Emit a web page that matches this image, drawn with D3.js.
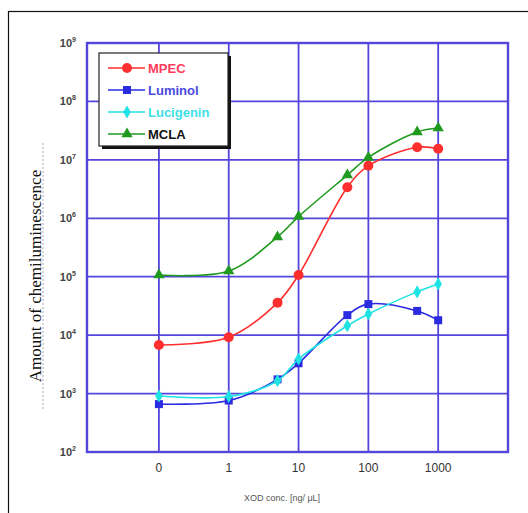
<!DOCTYPE html>
<html>
<head>
<meta charset="utf-8">
<script src="https://cdn.jsdelivr.net/npm/d3@7"></script>
<style>
  body { margin: 0; background: #fff; }
  svg { display: block; }
</style>
</head>
<body>
<div id="chart"></div>
<script>
// concentrations (0 is drawn one decade left of 1)
const concs = [0, 1, 5, 10, 50, 100, 500, 1000];
const xTicks = [0, 1, 10, 100, 1000];
const yExponents = [2, 3, 4, 5, 6, 7, 8, 9];

const mpec = [6.8e3, 9.2e3, 3.6e4, 1.07e5, 3.4e6, 7.9e6, 1.64e7, 1.55e7];
const luminol = [6.6e2, 7.6e2, 1.75e3, 3.3e3, 2.2e4, 3.4e4, 2.6e4, 1.8e4];
const lucigenin = [9.1e2, 8.9e2, 1.66e3, 3.9e3, 1.45e4, 2.3e4, 5.5e4, 7.5e4];
const mcla = [1.07e5, 1.25e5, 4.8e5, 1.07e6, 5.5e6, 1.1e7, 3.0e7, 3.5e7];

const series = [
  { name: "MPEC", values: mpec, color: "#ff2f2f", text: "#ff3b5c", shape: "circle" },
  { name: "Luminol", values: luminol, color: "#2b2be0", text: "#4a4ae0", shape: "square" },
  { name: "Lucigenin", values: lucigenin, color: "#1fe3e3", text: "#3ee0e6", shape: "diamond" },
  { name: "MCLA", values: mcla, color: "#1f9a1f", text: "#111", shape: "triangle" }
];

const width = 528, height = 513;
const plot = { left: 87, right: 508, top: 43, bottom: 452 };
const gridColor = "#5446dc";

const svg = d3.select("#chart").append("svg")
  .attr("width", width)
  .attr("height", height);

// outer frame
svg.append("rect")
  .attr("x", 8.5).attr("y", 11.5)
  .attr("width", 540).attr("height", 520)
  .attr("fill", "none")
  .attr("stroke", "#111")
  .attr("stroke-width", 1.2);

// position on the x axis: 0 gets its own slot left of 1
const pos = c => c === 0 ? 0 : Math.log10(c) + 1;

const x = d3.scaleLinear()
  .domain([-1.03, 5])
  .range([plot.left, plot.right]);

const y = d3.scaleLog()
  .domain([1e2, 1e9])
  .range([plot.bottom, plot.top]);

// grid
const grid = svg.append("g")
  .attr("stroke", gridColor)
  .attr("stroke-width", 1.8);

grid.selectAll("line.h")
  .data(yExponents)
  .join("line")
  .attr("class", "h")
  .attr("x1", plot.left).attr("x2", plot.right)
  .attr("y1", d => y(Math.pow(10, d)))
  .attr("y2", d => y(Math.pow(10, d)));

grid.selectAll("line.v")
  .data(xTicks)
  .join("line")
  .attr("class", "v")
  .attr("x1", d => x(pos(d))).attr("x2", d => x(pos(d)))
  .attr("y1", plot.top).attr("y2", plot.bottom);

grid.append("rect")
  .attr("x", plot.left).attr("y", plot.top)
  .attr("width", plot.right - plot.left)
  .attr("height", plot.bottom - plot.top)
  .attr("fill", "none")
  .attr("stroke-width", 2.4);

// y tick labels 10^n
const yl = svg.append("g")
  .attr("font-family", "Liberation Sans, Arial, sans-serif")
  .attr("font-weight", "bold")
  .attr("fill", "#444");

yl.selectAll("text")
  .data(yExponents)
  .join("text")
  .attr("x", 76)
  .attr("y", d => y(Math.pow(10, d)) + 4)
  .attr("text-anchor", "end")
  .attr("font-size", 11)
  .text("10")
  .append("tspan")
  .attr("dy", -5)
  .attr("font-size", 7)
  .text(d => d);

// x tick labels
svg.append("g")
  .selectAll("text")
  .data(xTicks)
  .join("text")
  .attr("x", d => x(pos(d)))
  .attr("y", 472)
  .attr("text-anchor", "middle")
  .attr("font-family", "Liberation Sans, Arial, sans-serif")
  .attr("font-size", 12)
  .attr("fill", "#333")
  .text(d => d);

// axis titles
svg.append("text")
  .attr("x", 282).attr("y", 501)
  .attr("text-anchor", "middle")
  .attr("font-family", "Liberation Sans, Arial, sans-serif")
  .attr("font-size", 9)
  .attr("fill", "#555")
  .text("XOD conc. [ng/ μL]");

svg.append("text")
  .attr("transform", "translate(41,276) rotate(-90)")
  .attr("text-anchor", "middle")
  .attr("font-family", "Liberation Serif, Times New Roman, serif")
  .attr("font-size", 17)
  .attr("fill", "#111")
  .text("Amount of chemiluminescence");

// faint dashed edge of the label box
svg.append("line")
  .attr("x1", 43).attr("x2", 43)
  .attr("y1", 143).attr("y2", 410)
  .attr("stroke", "#aaa")
  .attr("stroke-width", 1)
  .attr("stroke-dasharray", "2,2");

// marker drawer
function drawMarker(sel, shape, color) {
  if (shape === "circle") {
    sel.append("circle").attr("r", 5).attr("fill", color);
  } else if (shape === "square") {
    sel.append("rect").attr("x", -4).attr("y", -4)
      .attr("width", 8).attr("height", 8).attr("fill", color);
  } else if (shape === "diamond") {
    sel.append("path").attr("d", d3.symbol(d3.symbolDiamond, 50)()).attr("fill", color);
  } else {
    sel.append("path").attr("d", d3.symbol(d3.symbolTriangle, 55)()).attr("fill", color);
  }
}

const line = d3.line()
  .x((d, i) => x(pos(concs[i])))
  .y(d => y(d))
  .curve(d3.curveCatmullRom.alpha(0.5));

series.forEach(s => {
  const g = svg.append("g");
  g.append("path")
    .attr("d", line(s.values))
    .attr("fill", "none")
    .attr("stroke", s.color)
    .attr("stroke-width", 1.6);

  g.selectAll("g.pt")
    .data(s.values)
    .join("g")
    .attr("class", "pt")
    .attr("transform", (d, i) => `translate(${x(pos(concs[i]))},${y(d)})`)
    .each(function () { drawMarker(d3.select(this), s.shape, s.color); });
});

// legend with drop shadow
const lg = svg.append("g");
lg.append("rect")
  .attr("x", 102).attr("y", 56)
  .attr("width", 129).attr("height", 93)
  .attr("fill", "#111");
lg.append("rect")
  .attr("x", 99).attr("y", 53)
  .attr("width", 129).attr("height", 93)
  .attr("fill", "#fff")
  .attr("stroke", "#222")
  .attr("stroke-width", 1.2);

const items = lg.selectAll("g.item")
  .data(series)
  .join("g")
  .attr("class", "item")
  .attr("transform", (d, i) => `translate(0,${68 + i * 22})`);

items.append("line")
  .attr("x1", 108).attr("x2", 145)
  .attr("stroke", d => d.color)
  .attr("stroke-width", 1.5);

items.each(function (d) {
  const m = d3.select(this).append("g").attr("transform", "translate(127,0)");
  drawMarker(m, d.shape, d.color);
});

items.append("text")
  .attr("x", 148).attr("y", 5)
  .attr("font-family", "Liberation Sans, Arial, sans-serif")
  .attr("font-weight", "bold")
  .attr("font-size", 13)
  .attr("fill", d => d.text)
  .text(d => d.name);
</script>
</body>
</html>
